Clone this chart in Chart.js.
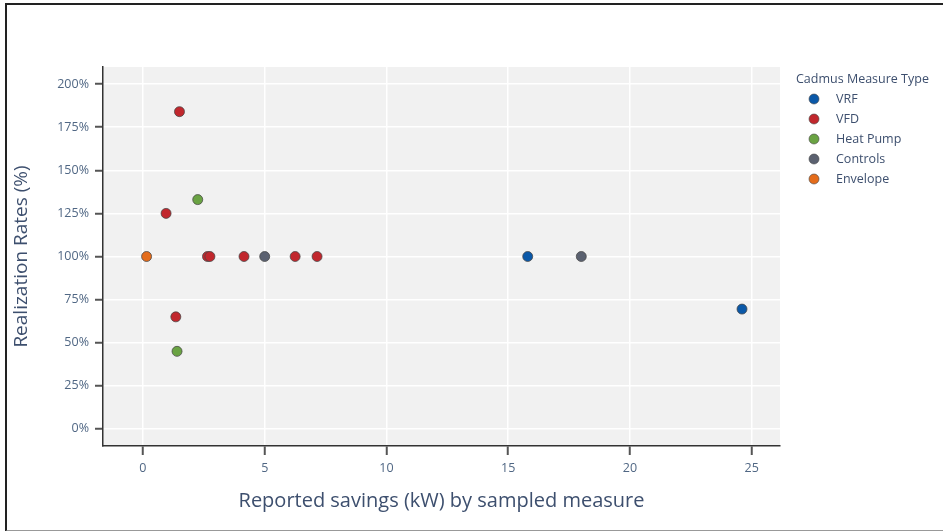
<!DOCTYPE html>
<html>
<head>
<meta charset="utf-8">
<script src="https://cdn.jsdelivr.net/npm/chart.js@4/dist/chart.umd.min.js"></script>
<style>
  body { margin: 0; background: #fff; }
  #wrap { position: relative; width: 943px; height: 531px; }
  #frame { position: absolute; left: 5px; top: 3px; width: 950px; height: 525px;
           border-left: 2px solid #222; border-top: 2px solid #222; border-bottom: 2px solid #999;
           pointer-events: none; }
</style>
</head>
<body>
<div id="wrap">
  <canvas id="chart" width="943" height="531"></canvas>
  <div id="frame"></div>
</div>
<script>
// measure types and their colours
const measureTypes = ['VRF', 'VFD', 'Heat Pump', 'Controls', 'Envelope'];
const typeColors = ['#0a58a8', '#c1272d', '#6aa343', '#5b6170', '#e46c1b'];

// reported savings (kW) and realization rates (%) per type
const vrfX = [15.8, 24.6];
const vrfY = [100, 69.5];
const vfdX = [1.5, 0.95, 2.65, 2.75, 4.15, 6.25, 7.15, 1.35];
const vfdY = [184, 125, 100, 100, 100, 100, 100, 65];
const heatPumpX = [2.25, 1.4];
const heatPumpY = [133, 45];
const controlsX = [5.0, 18.0];
const controlsY = [100, 100];
const envelopeX = [0.15];
const envelopeY = [100];

const xTicks = [0, 5, 10, 15, 20, 25];
const yTicks = [0, 25, 50, 75, 100, 125, 150, 175, 200];

const seriesX = [vrfX, vfdX, heatPumpX, controlsX, envelopeX];
const seriesY = [vrfY, vfdY, heatPumpY, controlsY, envelopeY];

const titleColor = '#3d4f6e';
const tickColor = '#506784';

const datasets = measureTypes.map((name, i) => ({
    label: name,
    data: seriesX[i].map((x, j) => ({ x: x, y: seriesY[i][j] })),
    backgroundColor: typeColors[i],
    borderColor: 'rgba(70,70,70,0.75)',
    borderWidth: 1,
    pointRadius: 5
}));

const plotBg = {
    id: 'plotBg',
    beforeDraw(chart) {
        const a = chart.chartArea, ctx = chart.ctx;
        ctx.save();
        ctx.fillStyle = '#f1f1f1';
        ctx.fillRect(a.left, a.top, a.right - a.left, a.bottom - a.top);
        ctx.restore();
    }
};

// plotly-like legend at the right
const sideLegend = {
    id: 'sideLegend',
    afterDraw(chart) {
        const ctx = chart.ctx;
        ctx.save();
        ctx.textBaseline = 'middle';
        ctx.textAlign = 'left';
        ctx.font = '12.5px "Open Sans"';
        ctx.fillStyle = titleColor;
        ctx.fillText('Cadmus Measure Type', 796, 79);
        chart.data.datasets.forEach((ds, i) => {
            const y = 99 + i * 20;
            ctx.beginPath();
            ctx.arc(814, y, 5, 0, Math.PI * 2);
            ctx.fillStyle = ds.backgroundColor;
            ctx.fill();
            ctx.lineWidth = 1;
            ctx.strokeStyle = 'rgba(70,70,70,0.6)';
            ctx.stroke();
            ctx.fillStyle = titleColor;
            ctx.fillText(ds.label, 836, y);
        });
        ctx.restore();
    }
};

new Chart(document.getElementById('chart'), {
    type: 'scatter',
    data: { datasets: datasets },
    options: {
        responsive: false,
        animation: false,
        layout: { padding: { left: 0, right: 163, top: 67, bottom: 14 } },
        plugins: {
            legend: { display: false },
            tooltip: { enabled: false }
        },
        scales: {
            x: {
                type: 'linear',
                min: -1.64,
                max: 26.16,
                afterBuildTicks: (s) => { s.ticks = xTicks.map(v => ({ value: v })); },
                afterFit: (s) => { s.height = 71; },
                ticks: { color: tickColor, font: { size: 12.5, family: 'Open Sans' }, padding: 6 },
                grid: { color: '#ffffff', lineWidth: 1.5, tickColor: '#555', tickLength: 9, tickWidth: 2 },
                border: { color: '#333', width: 1.5 },
                title: {
                    display: true,
                    text: 'Reported savings (kW) by sampled measure',
                    color: titleColor,
                    font: { size: 20, family: 'Open Sans' },
                    padding: { top: 4, bottom: 4 }
                }
            },
            y: {
                min: -9.9,
                max: 209.9,
                afterBuildTicks: (s) => { s.ticks = yTicks.map(v => ({ value: v })); },
                afterFit: (s) => { s.width = 103; },
                ticks: {
                    color: tickColor,
                    font: { size: 12.5, family: 'Open Sans' },
                    padding: 6,
                    callback: (v) => v + '%'
                },
                grid: { color: '#ffffff', lineWidth: 1.5, tickColor: '#555', tickLength: 8, tickWidth: 2 },
                border: { color: '#333', width: 1.5 },
                title: {
                    display: true,
                    text: 'Realization Rates (%)',
                    color: titleColor,
                    font: { size: 19, family: 'Open Sans' },
                    padding: { top: 10, bottom: 4 }
                }
            }
        }
    },
    plugins: [plotBg, sideLegend]
});
</script>
</body>
</html>
